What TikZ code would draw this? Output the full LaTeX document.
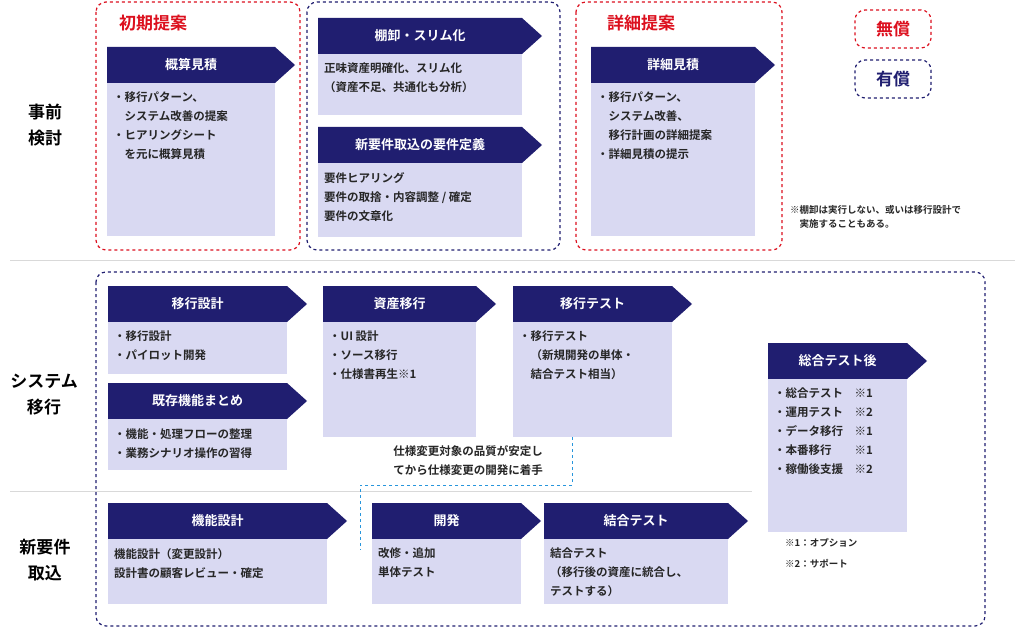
\documentclass[tikz,border=0pt]{standalone}
\usepackage{fontspec}
\setmainfont{Noto Sans CJK JP}[BoldFont={Noto Sans CJK JP Bold}]
\usetikzlibrary{positioning}
\definecolor{navy}{RGB}{32,30,112}
\definecolor{lav}{RGB}{217,217,242}
\definecolor{redd}{RGB}{220,16,30}
\definecolor{skyb}{RGB}{40,150,220}
\tikzset{hdr/.style={fill=navy},
  hdrtext/.style={text=white,font=\bfseries\fontsize{13}{15}\selectfont},
  bodytext/.style={align=left,inner sep=0pt,font=\bfseries\fontsize{11.5}{19}\selectfont,text=black!85},
  redbox/.style={draw=redd,dashed,line width=1.2pt,rounded corners=10pt},
  navybox/.style={draw=navy,dashed,line width=1.2pt,rounded corners=10pt},
  rowlabel/.style={align=center,font=\bfseries\fontsize{17}{26}\selectfont}}
\newcommand{\stage}[7]{% name, x, y, width, body height, title, body
  \fill[hdr] (#2,#3) -- ++(#4,0) -- ++(20,18) -- ++(-20,18) -- ++(-#4,0) -- cycle;
  \node[hdrtext] (#1h) at (#2+#4/2,#3+18) {#6};
  \fill[lav] (#2,#3+36) rectangle ++(#4,#5);
  \node[bodytext,anchor=north west] (#1b) at (#2+6,#3+45) {#7};}
\begin{document}
\begin{tikzpicture}[x=1pt,y=-1pt]
  \useasboundingbox (0,0) rectangle (1019,628);
  % frames
  \draw[redbox] (96,2) rectangle (300,250);
  \draw[navybox] (307,2) rectangle (560,250);
  \draw[redbox] (576,2) rectangle (782,250);
  \draw[navybox] (96,272) rectangle (985,626);
  \draw[black!15] (10,260) -- (1015,260);
  \draw[black!15] (10,491) -- (752,491);
  \node[text=redd,font=\bfseries\fontsize{17}{20}\selectfont] (shoki) at (153,23) {初期提案};
  \node[text=redd,font=\bfseries\fontsize{17}{20}\selectfont] (shosai) at (641,23) {詳細提案};
  % legend
  \node[redbox,text=redd,minimum width=76,minimum height=38,font=\bfseries\fontsize{17}{20}\selectfont] (muryo) at (893,29) {無償};
  \node[navybox,text=navy,minimum width=76,minimum height=38,font=\bfseries\fontsize{17}{20}\selectfont] (yuryo) at (893,79) {有償};
  % row labels
  \node[rowlabel] (jizen) at (45,125) {事前\\検討};
  \node[rowlabel] (system) at (44,395) {システム\\移行};
  \node[rowlabel] (shinyo) at (45,560) {新要件\\取込};
  % stages
  \stage{gaisan}{107}{47}{168}{153}{概算見積}{・移行パターン、\\\quad システム改善の提案\\・ヒアリングシート\\\quad を元に概算見積}
  \stage{tana}{318}{18}{204}{61}{棚卸・スリム化}{正味資産明確化、スリム化\\（資産不足、共通化も分析）}
  \stage{yoken}{318}{127}{204}{74}{新要件取込の要件定義}{要件ヒアリング\\要件の取捨・内容調整 / 確定\\要件の文章化}
  \stage{shosaimi}{591}{47}{164}{153}{詳細見積}{・移行パターン、\\\quad システム改善、\\\quad 移行計画の詳細提案\\・詳細見積の提示}
  \node[bodytext,font=\bfseries\fontsize{9.5}{14}\selectfont] (note) [anchor=north west] at (790,205) {※棚卸は実行しない、或いは移行設計で\\\quad 実施することもある。};
  \stage{ikosekkei}{108}{286}{179}{52}{移行設計}{・移行設計\\・パイロット開発}
  \stage{kizon}{108}{383}{179}{51}{既存機能まとめ}{・機能・処理フローの整理\\・業務シナリオ操作の習得}
  \stage{shisan}{323}{286}{153}{115}{資産移行}{・UI 設計\\・ソース移行\\・仕様書再生※1}
  \stage{ikotest}{513}{286}{159}{115}{移行テスト}{・移行テスト\\\quad（新規開発の単体・\\\quad 結合テスト相当）}
  \stage{sogo}{768}{343}{139}{153}{総合テスト後}{・総合テスト\quad ※1\\・運用テスト\quad ※2\\・データ移行\quad ※1\\・本番移行\qquad ※1\\・稼働後支援\quad ※2}
  \node[bodytext,font=\bfseries\fontsize{9.5}{21}\selectfont] (chu) [anchor=north west] at (785,538) {※1：オプション\\※2：サポート};
  \stage{kino}{108}{503}{219}{65}{機能設計}{機能設計（変更設計）\\設計書の顧客レビュー・確定}
  \stage{kaihatsu}{372}{503}{149}{65}{開発}{改修・追加\\単体テスト}
  \stage{ketsugo}{544}{503}{184}{65}{結合テスト}{結合テスト\\（移行後の資産に統合し、\\テストする）}
  % connector
  \coordinate (c1) at (572,437);
  \coordinate (c2) at (360,550);
  \draw[skyb,dashed,line width=1pt] (c1) |- (360,485) -- (c2);
  \node[fill=white,bodytext] (henko) at (468,461) {仕様変更対象の品質が安定し\\てから仕様変更の開発に着手};
\end{tikzpicture}
\end{document}
